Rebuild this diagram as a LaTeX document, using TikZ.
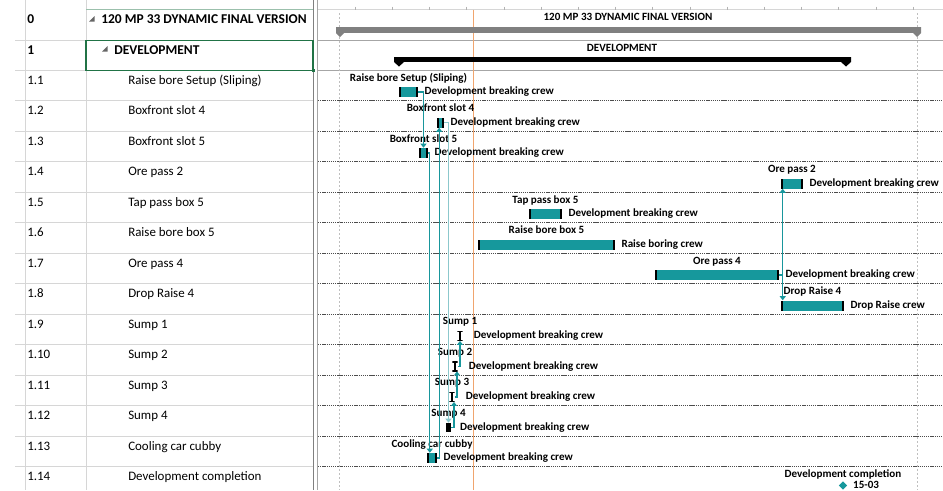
\documentclass[tikz,border=0pt]{standalone}
\usepackage{fontspec}
\setmainfont{Carlito}
\usetikzlibrary{positioning}
\usetikzlibrary{arrows.meta,shapes,shapes.geometric}
\definecolor{barteal}{RGB}{22,152,156}
\definecolor{linkteal}{RGB}{24,150,156}
\definecolor{linklight}{RGB}{140,200,204}
\definecolor{selgreen}{RGB}{33,115,70}
\definecolor{gridgray}{RGB}{214,214,214}
\definecolor{sumgray}{RGB}{128,128,128}
\definecolor{todayorange}{RGB}{240,165,110}
\tikzstyle{cell}=[anchor=base west,inner sep=0pt,font=\fontsize{9.7}{12}\selectfont]
\tikzstyle{headcell}=[cell,font=\bfseries\fontsize{10.1}{12}\selectfont]
\tikzstyle{barlabel}=[inner sep=0pt,font=\bfseries\fontsize{8.3}{10}\selectfont]
\tikzstyle{taskbar}=[fill=barteal,inner sep=0pt,minimum height=7.5pt,
  path picture={\fill[black] (path picture bounding box.south west) rectangle ([xshift=1.8pt]path picture bounding box.north west);
                \fill[black] (path picture bounding box.south east) rectangle ([xshift=-1.8pt]path picture bounding box.north east);}]
\tikzstyle{ibeam}=[fill=white,inner sep=0pt,minimum width=4pt,minimum height=7pt,
  path picture={\draw[black,line width=1.4pt] (path picture bounding box.north) -- (path picture bounding box.south);
                \draw[black,line width=1.2pt] (path picture bounding box.north west) -- (path picture bounding box.north east);
                \draw[black,line width=1.2pt] (path picture bounding box.south west) -- (path picture bounding box.south east);}]
\tikzstyle{sumbox}=[fill=black,inner sep=0pt,minimum width=3.5pt,minimum height=6.8pt]
\tikzstyle{milestone}=[diamond,fill=barteal,inner sep=0pt,minimum size=6.5pt]
\tikzstyle{link}=[draw=linkteal,line width=1pt,-{Triangle[length=3pt,width=4.5pt]}]
\begin{document}
\begin{tikzpicture}[x=0.75pt,y=-0.75pt]
  \useasboundingbox (0,0) rectangle (943,490);
  % First we draw the grid of the table and of the chart
  \foreach \k in {0,...,13}
    \draw[gridgray] (15,{70+30.5*\k}) -- (313,{70+30.5*\k});
  \draw[gridgray] (15,40) -- (313,40);
  \draw[gridgray] (25,0) -- (25,490);
  \draw[gridgray] (86,0) -- (86,490);
  \draw[gray] (313,0) -- (313,490);
  \draw[gray!70] (317,0) -- (317,490);
  \draw[selgreen!45] (86,9) -- (313,9);
  \draw[gridgray] (318,9.5) -- (943,9.5);
  \foreach \x in {0,...,15}
    \draw[gray!60] ({355+37.2*\x},6.5) -- ({355+37.2*\x},9.5);
  \draw[gray!70] (318,40) -- (943,40);
  \draw[gray!70] (318,70) -- (943,70);
  \foreach \k in {1,...,13}
    \draw[black!70,dash pattern=on 1pt off 0.6pt] (318,{70+30.5*\k}) -- (943,{70+30.5*\k});
  \draw[gray!50,dash pattern=on 1.5pt off 1.5pt] (339,13) -- (339,490);
  \draw[gray!50,dash pattern=on 1.5pt off 1.5pt] (917,13) -- (917,490);
  \draw[todayorange] (473,9.5) -- (473,490);

  % Table
  \node[headcell] (r0) at (27,23.5) {0};
  \node[headcell] (r1) at (27,54) {1};
  \fill[gray!80!black] (94.5,16) -- (94.5,21.5) -- (89,21.5) -- cycle;
  \fill[gray!80!black] (107.5,46) -- (107.5,51.5) -- (102,51.5) -- cycle;
  \node[headcell] (c0) at (101,23.5) {120 MP 33 DYNAMIC FINAL VERSION};
  \node[headcell] (c1) at (114,54) {DEVELOPMENT};
  \foreach \i/\name in {1/Raise bore Setup (Sliping), 2/Boxfront slot 4, 3/Boxfront slot 5,
      4/Ore pass 2, 5/Tap pass box 5, 6/Raise bore box 5, 7/Ore pass 4, 8/Drop Raise 4,
      9/Sump 1, 10/Sump 2, 11/Sump 3, 12/Sump 4, 13/Cooling car cubby, 14/Development completion}
  {
    \node[cell] (r1\i) at (27,{70+30.5*(\i-1)+14.3}) {1.\i};
    \node[cell] (c1\i) at (128,{70+30.5*(\i-1)+14.3}) {\name};
  }
  \draw[selgreen,line width=1.1pt] (86,40.5) rectangle (313,70.5);
  \fill[selgreen] (311.5,69) rectangle (314.5,72);

  % Summary bars
  \node[barlabel] (s0) at (628,17) {120 MP 33 DYNAMIC FINAL VERSION};
  \fill[sumgray] (336,27) rectangle (921,33);
  \fill[sumgray] (336,27) -- (344,27) -- (344,33) -- (340,37) -- (336,33) -- cycle;
  \fill[sumgray] (913,27) -- (921,27) -- (921,33) -- (917,37) -- (913,33) -- cycle;
  \node[barlabel] (s1) at (622,47.5) {DEVELOPMENT};
  \fill[black] (394,57) rectangle (851,62);
  \fill[black] (394,57) -- (404,57) -- (404,62) -- (399,66.5) -- (394,62) -- cycle;
  \fill[black] (841,57) -- (851,57) -- (851,62) -- (846,66.5) -- (841,62) -- cycle;

  % Then the task bars
  \foreach \n/\xa/\xb/\i/\top/\crew in {b11/399/418/1/{Raise bore Setup (Sliping)}/Development breaking crew,
      b12/437/444/2/Boxfront slot 4/Development breaking crew,
      b13/419/428/3/Boxfront slot 5/Development breaking crew,
      b14/781/803/4/Ore pass 2/Development breaking crew,
      b15/529/562/5/Tap pass box 5/Development breaking crew,
      b16/478/615/6/Raise bore box 5/Raise boring crew,
      b17/655/779/7/Ore pass 4/Development breaking crew,
      b18/781/844/8/Drop Raise 4/Drop Raise crew,
      b113/427/437/13/Cooling car cubby/Development breaking crew}
  {
    \node[taskbar,minimum width={(\xb-\xa)*0.75pt}] (\n) at ({(\xa+\xb)/2},{70+30.5*(\i-1)+22}) {};
    \node[barlabel,anchor=base] at ([yshift=4pt]\n.north) {\top};
    \node[barlabel,anchor=base west] at ([xshift=4.5pt,yshift=-2pt]\n.east) {\crew};
  }
  % Sumps
  \foreach \n/\x/\i/\top in {s1/460/9/Sump 1, s2/455/10/Sump 2, s3/452/11/Sump 3}
  {
    \node[ibeam] (\n) at (\x,{70+30.5*(\i-1)+22}) {};
    \node[barlabel,anchor=base] at ([yshift=4.8pt]\n.north) {\top};
    \node[barlabel,anchor=base west] at ([xshift=8pt,yshift=-2pt]\n.east) {Development breaking crew};
  }
  \node[sumbox] (s4) at (448.5,{70+30.5*11+22}) {};
  \node[barlabel,anchor=base] at ([yshift=4.8pt]s4.north) {Sump 4};
  \node[barlabel,anchor=base west] at ([xshift=6.5pt,yshift=-2pt]s4.east) {Development breaking crew};
  \node[milestone] (m114) at (843,485.5) {};
  \node[barlabel,anchor=base] at (843,477) {Development completion};
  \node[barlabel,anchor=base west] at ([xshift=4pt,yshift=-2pt]m114.east) {15-03};

  % Connect bars with links
  \draw[link] (b11.east) -| (b13.north);
  \draw[link] (b13.east) -| ([xshift=2.3pt]b113.north west);
  \draw[link] (b113.east) -| ([xshift=-1pt]b12.south);
  \draw[link,draw=linklight] (b12.east) -| (s4.north);
  \draw[link] (s4.east) -| ([xshift=1.5pt]s3.south);
  \draw[link] (s3.east) -| ([xshift=1.5pt]s2.south);
  \draw[link] (s2.east) -| (s1.south);
  \draw[link] (b17.east) -| ([xshift=1.5pt]b14.south west);
  \draw[link] (b17.east) -| ([xshift=1.5pt]b18.north west);
\end{tikzpicture}
\end{document}
